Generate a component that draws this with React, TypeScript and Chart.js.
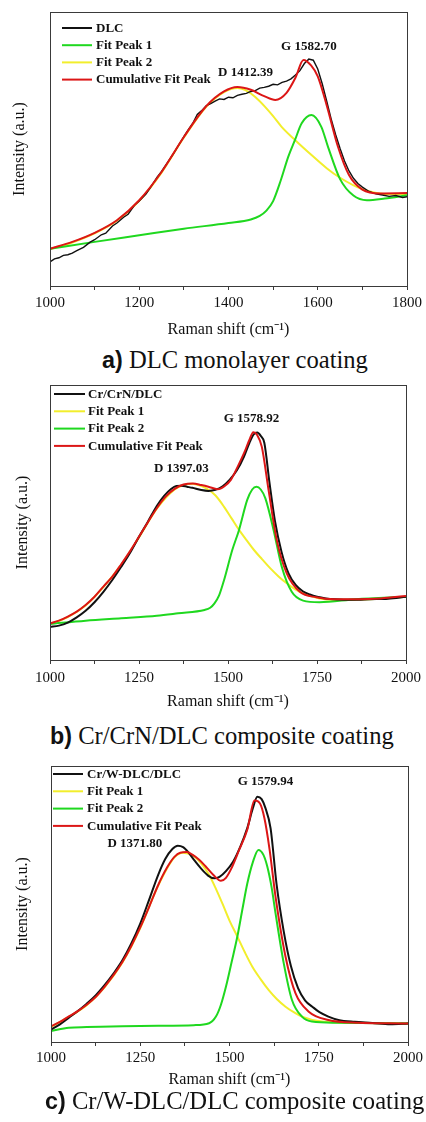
import React, { useEffect, useRef } from "react";
import { Chart, registerables } from "chart.js";

Chart.register(...registerables);

const SERIF = "'Liberation Serif', 'Times New Roman', serif";
const SANS = "'Liberation Sans', Arial, sans-serif";

const BLACK = "#111111";
const GREEN = "#1fd81f";
const YELLOW = "#f2ee2c";
const RED = "#dc1616";

// ---------------- Panel a: DLC monolayer coating ----------------
const aLabels = ["DLC", "Fit Peak 1", "Fit Peak 2", "Cumulative Fit Peak"];
const aTickLabels = [1000, 1200, 1400, 1600, 1800];
const aBlackX = [1000, 1010, 1020, 1030, 1040, 1050, 1060, 1075, 1090, 1100, 1115, 1125, 1140, 1150, 1165, 1175, 1190, 1200, 1215, 1225, 1240, 1250, 1265, 1275, 1290, 1300,
  1310, 1320, 1330, 1340, 1350, 1360, 1370, 1380, 1390, 1400, 1410, 1420, 1430, 1440, 1450, 1460, 1470, 1480, 1490, 1500, 1510, 1520, 1530, 1540, 1550, 1560, 1570, 1580, 1590, 1600,
  1610, 1620, 1630, 1640, 1650, 1660, 1670, 1680, 1690, 1700, 1715, 1730, 1745, 1760, 1775, 1790, 1800];
const aBlackY = [8.8, 9.9, 10.3, 11.2, 11.4, 12.0, 12.9, 14.1, 16.0, 16.9, 18.7, 19.3, 21.9, 23.0, 25.1, 26.2, 29.6, 31.0, 33.6, 35.9, 39.7, 41.8, 45.5, 47.9, 51.9, 54.5,
  57.1, 59.4, 62.6, 64.0, 65.8, 66.6, 67.5, 68.3, 68.1, 68.9, 68.7, 69.6, 70.0, 70.3, 71.0, 71.3, 72.2, 72.5, 72.9, 73.6, 73.4, 74.3, 74.8, 75.6, 77.0, 78.6, 81.2, 82.8, 82.4, 79.2,
  73.8, 67.5, 61.0, 55.3, 50.2, 45.6, 42.0, 39.3, 37.4, 36.1, 34.5, 33.6, 33.2, 32.7, 33.0, 32.3, 32.6];
const aGreenX = [1000, 1100, 1200, 1300, 1400, 1450, 1470, 1485, 1500, 1517, 1534, 1549, 1564, 1586, 1608, 1623, 1650, 1680, 1710, 1750, 1800];
const aGreenY = [13.6, 16.1, 18.5, 20.9, 23.0, 24.3, 25.6, 27.5, 31.0, 38.5, 47.2, 53.3, 59.4, 62.4, 58.1, 50.8, 39.0, 33.0, 31.3, 31.9, 33.1];
const aYellowX = [1000, 1050, 1100, 1150, 1200, 1250, 1300, 1350, 1390, 1420, 1438, 1460, 1482, 1500, 1519, 1549, 1586, 1620, 1650, 1700, 1750, 1800];
const aYellowY = [13.4, 15.9, 19.2, 23.8, 31.1, 41.4, 54.2, 65.4, 70.8, 72.3, 71.5, 69.0, 65.4, 62.0, 58.1, 53.3, 47.8, 43.0, 39.5, 35.3, 33.6, 33.5];
const aRedX = [1000, 1050, 1100, 1150, 1200, 1250, 1300, 1350, 1390, 1420, 1450, 1480, 1505, 1530, 1550, 1568, 1585, 1600, 1620, 1645, 1670, 1700, 1740, 1800];
const aRedY = [13.6, 16.1, 19.4, 24.0, 31.3, 41.6, 54.4, 65.6, 71.0, 72.6, 71.6, 69.3, 67.9, 70.5, 76.0, 82.5, 80.5, 76.5, 66.0, 51.0, 40.5, 35.2, 33.8, 33.9];
const aNoteText = ["D 1412.39", "G 1582.70"];
const aNoteX = [1438, 1580];
const aNoteY = [77.7, 87.5];

// ---------------- Panel b: Cr/CrN/DLC composite coating ----------------
const bLabels = ["Cr/CrN/DLC", "Fit Peak 1", "Fit Peak 2", "Cumulative Fit Peak"];
const bTickLabels = [1000, 1250, 1500, 1750, 2000];
const bBlackX = [1000, 1025, 1050, 1075, 1100, 1125, 1150, 1175, 1200, 1225, 1250, 1275, 1300, 1320, 1340, 1355, 1370, 1385, 1400,
  1425, 1445, 1465, 1485, 1505, 1525, 1545, 1560, 1572, 1582, 1592, 1602, 1617, 1632, 1650, 1670, 1690, 1710, 1730, 1750, 1775, 1800, 1850, 1900, 1950, 2000];
const bBlackY = [12.1, 12.5, 13.6, 15.5, 17.9, 21.0, 24.8, 29.1, 33.9, 39.0, 44.8, 50.3, 56.0, 59.6, 62.2, 63.3, 63.4, 63.0, 62.6,
  61.8, 61.5, 61.9, 63.2, 65.6, 69.0, 74.0, 78.9, 82.0, 82.7, 81.5, 79.0, 64.0, 50.5, 39.5, 31.5, 27.3, 25.0, 23.8, 23.0, 22.4, 22.1, 21.9, 22.1, 22.3, 23.0];
const bYellowX = [1000, 1050, 1100, 1150, 1200, 1250, 1300, 1350, 1375, 1400, 1420, 1443, 1465, 1489, 1510, 1531, 1552, 1573, 1596, 1619, 1642, 1665, 1688, 1711, 1757, 1800, 1900, 2000];
const bYellowY = [13.1, 15.6, 19.8, 26.5, 34.6, 44.6, 55.0, 62.0, 63.6, 64.1, 63.5, 62.1, 59.8, 55.7, 51.5, 47.3, 43.6, 40.0, 36.6, 33.3, 30.4, 27.9, 25.8, 24.2, 22.4, 21.9, 22.1, 23.0];
const bGreenX = [1000, 1100, 1200, 1300, 1360, 1434, 1450, 1462, 1475, 1489, 1512, 1531, 1554, 1568, 1580, 1592, 1605, 1628, 1651, 1679, 1711, 1757, 1859, 2000];
const bGreenY = [13.1, 14.3, 15.2, 16.1, 17.0, 18.2, 19.0, 20.6, 23.5, 29.1, 40.0, 47.3, 58.2, 62.0, 63.0, 62.0, 58.8, 47.3, 33.9, 24.8, 21.6, 21.0, 22.1, 23.0];
const bRedX = [1000, 1025, 1050, 1075, 1100, 1125, 1150, 1175, 1200, 1225, 1250, 1275, 1300, 1325, 1350, 1375,
  1402, 1425, 1445, 1471, 1490, 1508, 1528, 1545, 1560, 1571, 1582, 1595, 1614, 1637, 1665, 1702, 1748, 1800, 1860, 1930, 2000];
const bRedY = [13.3, 14.3, 15.8, 17.6, 20.0, 23.0, 26.7, 30.3, 34.8, 39.6, 44.8, 50.1, 55.2, 59.4, 62.2, 63.8,
  64.2, 63.6, 63.0, 62.1, 63.2, 65.5, 70.5, 75.2, 80.0, 82.8, 81.8, 77.5, 61.8, 43.6, 31.5, 24.8, 22.8, 22.1, 22.1, 22.4, 23.3];
const bNoteText = ["D 1397.03", "G 1578.92"];
const bNoteX = [1369, 1566];
const bNoteY = [69.5, 87.9];

// ---------------- Panel c: Cr/W-DLC/DLC composite coating ----------------
const cLabels = ["Cr/W-DLC/DLC", "Fit Peak 1", "Fit Peak 2", "Cumulative Fit Peak"];
const cTickLabels = [1000, 1250, 1500, 1750, 2000];
const cBlackX = [1000, 1025, 1050, 1075, 1100, 1125, 1150, 1175, 1200, 1225, 1250, 1275, 1300, 1320, 1340, 1355, 1370, 1385, 1400,
  1420, 1440, 1457, 1472, 1490, 1510, 1530, 1550, 1565, 1578, 1590, 1600, 1615, 1632, 1652, 1672, 1692, 1712, 1732, 1752, 1777, 1805, 1850, 1900, 1950, 2000];
const cBlackY = [4.5, 6.4, 8.8, 11.2, 13.9, 16.9, 20.6, 24.8, 29.6, 35.7, 42.9, 51.6, 60.5, 66.3, 69.9, 71.1, 70.6, 68.7, 66.1,
  62.9, 60.3, 59.3, 59.8, 61.9, 65.3, 70.7, 77.6, 84.5, 88.9, 88.0, 85.0, 77.5, 57.0, 40.0, 27.5, 19.5, 15.0, 12.8, 10.8, 9.2, 8.0, 7.3, 6.9, 6.4, 6.7];
const cYellowX = [1000, 1050, 1100, 1150, 1200, 1250, 1300, 1345, 1370, 1397, 1420, 1443, 1462, 1480, 1500, 1522, 1543, 1564, 1587, 1610, 1633, 1657, 1680, 1703, 1759, 1850, 2000];
const cYellowY = [5.5, 9.1, 13.3, 19.8, 28.8, 41.3, 56.6, 66.8, 68.6, 67.6, 64.8, 60.5, 55.5, 50.2, 44.0, 38.2, 32.5, 27.3, 22.8, 18.8, 15.5, 12.8, 10.8, 9.2, 7.4, 7.0, 6.7];
const cGreenX = [1000, 1050, 1100, 1200, 1300, 1400, 1443, 1462, 1476, 1490, 1506, 1522, 1536, 1550, 1565, 1581, 1595, 1606, 1618, 1629, 1652, 1675, 1703, 1731, 1800, 2000];
const cGreenY = [4.0, 5.2, 5.4, 5.7, 5.9, 6.1, 6.8, 9.2, 13.5, 20.0, 29.0, 38.2, 48.0, 57.5, 65.0, 69.6, 67.8, 63.5, 56.0, 46.6, 28.5, 15.2, 9.2, 7.4, 7.0, 6.7];
const cRedX = [1000, 1025, 1050, 1075, 1100, 1125, 1150, 1175, 1200, 1225, 1250, 1275, 1300, 1325,
  1345, 1362, 1380, 1397, 1415, 1434, 1455, 1476, 1490, 1505, 1527, 1550, 1570, 1585, 1598, 1612, 1629, 1657, 1685, 1722, 1777, 1861, 1950, 2000];
const cRedY = [5.7, 7.3, 9.3, 11.2, 13.5, 16.3, 20.0, 24.2, 29.0, 34.8, 41.5, 49.0, 56.8, 63.2,
  67.0, 68.6, 68.8, 67.8, 66.0, 63.5, 60.5, 58.4, 59.5, 62.8, 69.6, 77.0, 87.5, 86.5, 81.0, 70.0, 52.6, 30.9, 17.6, 11.0, 8.0, 7.0, 6.8, 6.7];
const cNoteText = ["D 1371.80", "G 1579.94"];
const cNoteX = [1235, 1601];
const cNoteY = [72.0, 94.3];

type Series = { label: string; xs: number[]; ys: number[]; color: string; width: number; smooth: boolean; order: number };
type Spec = {
  top: number; height: number; padTop: number; padRight: number; yAxisW: number; xAxisH: number;
  xMax: number; step: number; tickLabels: number[]; tickPad: number; xTitlePad: number; yTitlePad: number;
  series: Series[]; noteText: string[]; noteX: number[]; noteY: number[];
  legend: { x0: number; x1: number; tx: number; y0: number; pitch: number };
};

const specA: Spec = {
  top: 0, height: 345, padTop: 12, padRight: 17, yAxisW: 50, xAxisH: 59,
  xMax: 1800, step: 100, tickLabels: aTickLabels, tickPad: 4, xTitlePad: 5.4, yTitlePad: 10.4,
  series: [
    { label: aLabels[0], xs: aBlackX, ys: aBlackY, color: BLACK, width: 1.4, smooth: false, order: 1 },
    { label: aLabels[1], xs: aGreenX, ys: aGreenY, color: GREEN, width: 2, smooth: true, order: 2 },
    { label: aLabels[2], xs: aYellowX, ys: aYellowY, color: YELLOW, width: 2, smooth: true, order: 3 },
    { label: aLabels[3], xs: aRedX, ys: aRedY, color: RED, width: 2, smooth: true, order: 0 },
  ],
  noteText: aNoteText, noteX: aNoteX, noteY: aNoteY,
  legend: { x0: 12, x1: 42, tx: 46, y0: 16, pitch: 17.2 },
};

const specB: Spec = {
  top: 370, height: 345, padTop: 15, padRight: 15, yAxisW: 50, xAxisH: 55,
  xMax: 2000, step: 125, tickLabels: bTickLabels, tickPad: 5, xTitlePad: 3.4, yTitlePad: 13.4,
  series: [
    { label: bLabels[0], xs: bBlackX, ys: bBlackY, color: BLACK, width: 2, smooth: true, order: 1 },
    { label: bLabels[1], xs: bYellowX, ys: bYellowY, color: YELLOW, width: 2, smooth: true, order: 3 },
    { label: bLabels[2], xs: bGreenX, ys: bGreenY, color: GREEN, width: 2, smooth: true, order: 2 },
    { label: bLabels[3], xs: bRedX, ys: bRedY, color: RED, width: 2, smooth: true, order: 0 },
  ],
  noteText: bNoteText, noteX: bNoteX, noteY: bNoteY,
  legend: { x0: 4, x1: 35, tx: 38, y0: 9, pitch: 17.3 },
};

const specC: Spec = {
  top: 740, height: 355, padTop: 26, padRight: 16, yAxisW: 51, xAxisH: 53,
  xMax: 2000, step: 125, tickLabels: cTickLabels, tickPad: 3, xTitlePad: 5.4, yTitlePad: 13.4,
  series: [
    { label: cLabels[0], xs: cBlackX, ys: cBlackY, color: BLACK, width: 2, smooth: true, order: 1 },
    { label: cLabels[1], xs: cYellowX, ys: cYellowY, color: YELLOW, width: 2, smooth: true, order: 3 },
    { label: cLabels[2], xs: cGreenX, ys: cGreenY, color: GREEN, width: 2, smooth: true, order: 2 },
    { label: cLabels[3], xs: cRedX, ys: cRedY, color: RED, width: 2, smooth: true, order: 0 },
  ],
  noteText: cNoteText, noteX: cNoteX, noteY: cNoteY,
  legend: { x0: 2, x1: 32, tx: 36, y0: 8, pitch: 17.3 },
};

function makeConfig(spec: Spec): any {
  const decorPlugin = {
    id: "decor",
    afterDraw(chart: any) {
      const { ctx, chartArea } = chart;
      const { left, top, right, bottom } = chartArea;
      ctx.save();
      // frame
      ctx.strokeStyle = "#3a3a3a";
      ctx.lineWidth = 1;
      ctx.strokeRect(Math.round(left) + 0.5, Math.round(top) + 0.5, Math.round(right - left), Math.round(bottom - top));
      // legend
      ctx.font = `bold 13px ${SERIF}`;
      ctx.textBaseline = "middle";
      ctx.textAlign = "left";
      chart.data.datasets.forEach((ds: any, i: number) => {
        const y = top + spec.legend.y0 + i * spec.legend.pitch;
        ctx.strokeStyle = ds.borderColor;
        ctx.lineWidth = 2;
        ctx.beginPath();
        ctx.moveTo(left + spec.legend.x0, y);
        ctx.lineTo(left + spec.legend.x1, y);
        ctx.stroke();
        ctx.fillStyle = "#111";
        ctx.fillText(ds.label, left + spec.legend.tx, y + 0.5);
      });
      // peak annotations
      ctx.textAlign = "center";
      const xs = chart.scales.x;
      const ys = chart.scales.y;
      spec.noteText.forEach((t, i) => {
        ctx.fillText(t, xs.getPixelForValue(spec.noteX[i]), ys.getPixelForValue(spec.noteY[i]));
      });
      ctx.restore();
    },
  };

  return {
    type: "line",
    data: {
      datasets: spec.series.map((s) => ({
        label: s.label,
        data: s.xs.map((x, i) => ({ x, y: s.ys[i] })),
        borderColor: s.color,
        backgroundColor: s.color,
        borderWidth: s.width,
        pointRadius: 0,
        fill: false,
        order: s.order,
        tension: s.smooth ? 0.4 : 0,
        cubicInterpolationMode: s.smooth ? "monotone" : "default",
      })),
    },
    options: {
      animation: false,
      responsive: false,
      devicePixelRatio: 1,
      layout: { padding: { left: 0, top: spec.padTop, right: spec.padRight, bottom: 0 } },
      plugins: { legend: { display: false }, tooltip: { enabled: false } },
      scales: {
        x: {
          type: "linear",
          min: 1000,
          max: spec.xMax,
          afterFit: (s: any) => { s.height = spec.xAxisH; },
          border: { display: false },
          grid: { display: true, drawOnChartArea: false, drawTicks: true, tickLength: 4, color: "#3a3a3a", lineWidth: 1 },
          ticks: {
            stepSize: spec.step,
            autoSkip: false,
            maxRotation: 0,
            minRotation: 0,
            padding: spec.tickPad,
            color: "#111",
            font: { family: SERIF, size: 15 },
            callback: (v: any) => (spec.tickLabels.includes(Number(v)) ? String(v) : ""),
          },
          title: {
            display: true,
            text: "Raman shift (cm\u207B\u00B9)",
            color: "#111",
            font: { family: SERIF, size: 16 },
            padding: { top: 0, bottom: spec.xTitlePad },
          },
        },
        y: {
          type: "linear",
          min: 0,
          max: 100,
          afterFit: (s: any) => { s.width = spec.yAxisW; },
          border: { display: false },
          grid: { display: false },
          ticks: { display: false },
          title: {
            display: true,
            text: "Intensity (a.u.)",
            color: "#111",
            font: { family: SERIF, size: 16 },
            padding: { top: spec.yTitlePad, bottom: 0 },
          },
        },
      },
    },
    plugins: [decorPlugin],
  };
}

function Panel({ spec }: { spec: Spec }) {
  const ref = useRef<HTMLCanvasElement | null>(null);
  useEffect(() => {
    if (!ref.current) return;
    const chart = new Chart(ref.current, makeConfig(spec));
    return () => chart.destroy();
  }, [spec]);
  return (
    <canvas
      ref={ref}
      width={426}
      height={spec.height}
      style={{ position: "absolute", left: 0, top: spec.top, width: 426, height: spec.height, display: "block" }}
    />
  );
}

function Caption({ tag, text, left, top }: { tag: string; text: string; left: number; top: number }) {
  return (
    <div
      style={{
        position: "absolute",
        left,
        top,
        whiteSpace: "nowrap",
        fontSize: 24.6,
        lineHeight: "28px",
        color: "#111",
        fontFamily: SERIF,
      }}
    >
      <span style={{ fontFamily: SANS, fontWeight: "bold", fontSize: 23.3 }}>{tag}</span> {text}
    </div>
  );
}

export default function App() {
  return (
    <div style={{ position: "absolute", left: 0, top: 0, width: 426, height: 1122, background: "#fff", overflow: "hidden" }}>
      <Panel spec={specA} />
      <Caption tag="a)" text="DLC monolayer coating" left={102} top={346} />
      <Panel spec={specB} />
      <Caption tag="b)" text="Cr/CrN/DLC composite coating" left={50} top={722} />
      <Panel spec={specC} />
      <Caption tag="c)" text="Cr/W-DLC/DLC composite coating" left={45} top={1087} />
    </div>
  );
}
